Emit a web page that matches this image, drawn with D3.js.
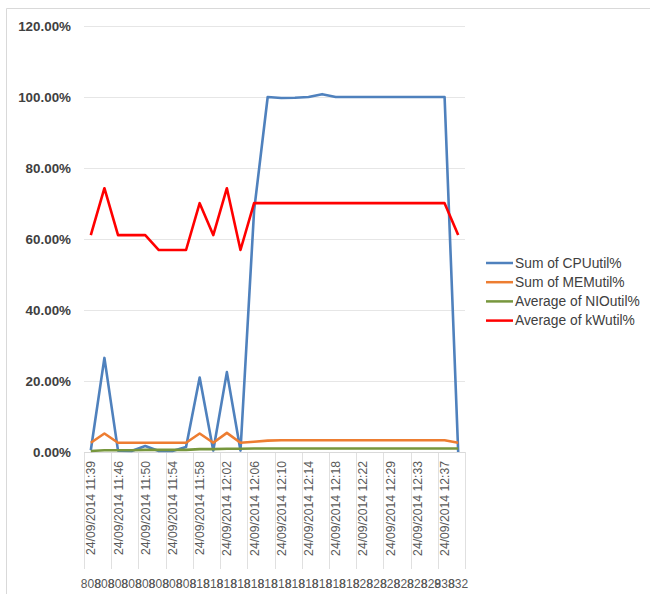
<!DOCTYPE html>
<html>
<head>
<meta charset="utf-8">
<script src="https://cdn.jsdelivr.net/npm/d3@7"></script>
<style>
  html, body { margin: 0; padding: 0; background: #fff; }
  svg { display: block; font-family: "Liberation Sans", Arial, sans-serif; }
</style>
</head>
<body>
<svg id="chart" width="650" height="594"></svg>
<script>
// Sample times (every other one is labelled on the axis)
const times = [
  "11:39", "11:44", "11:46", "11:48", "11:50", "11:52", "11:54", "11:56",
  "11:58", "12:00", "12:02", "12:04", "12:06", "12:08", "12:10", "12:12",
  "12:14", "12:16", "12:18", "12:20", "12:22", "12:26", "12:29", "12:31",
  "12:33", "12:35", "12:37", "12:39"
];
const tickLabels = [
  "24/09/2014 11:39", "24/09/2014 11:46", "24/09/2014 11:50", "24/09/2014 11:54",
  "24/09/2014 11:58", "24/09/2014 12:02", "24/09/2014 12:06", "24/09/2014 12:10",
  "24/09/2014 12:14", "24/09/2014 12:18", "24/09/2014 12:22", "24/09/2014 12:29",
  "24/09/2014 12:33", "24/09/2014 12:37"
];
// Outer category level (host id per sample)
const hosts = [
  "808", "808", "808", "808", "808", "808", "808", "808",
  "818", "818", "818", "818", "818", "818", "818", "818",
  "818", "818", "818", "818", "828", "828", "828", "828",
  "828", "829", "838", "832"
];
const yTicks = [0, 0.2, 0.4, 0.6, 0.8, 1.0, 1.2];

const cpuUtil = [0.005, 0.265, 0.004, 0.003, 0.017, 0.003, 0.003, 0.014,
  0.21, 0.004, 0.225, 0.004, 0.68, 1.0, 0.997, 0.998, 1.0, 1.008, 1.0, 1.0,
  1.0, 1.0, 1.0, 1.0, 1.0, 1.0, 1.0, 0.0];
const memUtil = [0.026, 0.052, 0.026, 0.026, 0.026, 0.026, 0.026, 0.026,
  0.052, 0.026, 0.054, 0.026, 0.029, 0.032, 0.033, 0.033, 0.033, 0.033, 0.033, 0.033,
  0.033, 0.033, 0.033, 0.033, 0.033, 0.033, 0.033, 0.026];
const nioUtil = [0.003, 0.005, 0.005, 0.005, 0.006, 0.006, 0.006, 0.006,
  0.008, 0.008, 0.009, 0.009, 0.01, 0.01, 0.01, 0.01, 0.01, 0.01, 0.01, 0.01,
  0.01, 0.01, 0.01, 0.01, 0.01, 0.01, 0.01, 0.01];
const kwUtil = [0.611, 0.743, 0.611, 0.611, 0.611, 0.569, 0.569, 0.569,
  0.701, 0.611, 0.743, 0.569, 0.701, 0.701, 0.701, 0.701, 0.701, 0.701, 0.701, 0.701,
  0.701, 0.701, 0.701, 0.701, 0.701, 0.701, 0.701, 0.611];

const seriesNames = ["Sum of CPUutil%", "Sum of MEMutil%", "Average of NIOutil%", "Average of kWutil%"];
const seriesColors = ["#4F81BD", "#ED7D31", "#77973D", "#FF0000"];
const seriesValues = [cpuUtil, memUtil, nioUtil, kwUtil];

const svg = d3.select("#chart");

// chart frame
svg.append("path")
  .attr("d", "M6.5,594 V8.5 H650")
  .attr("fill", "none").attr("stroke", "#d9d9d9").attr("stroke-width", 1);

const plotLeft = 84, plotRight = 465, plotTop = 26, plotBottom = 452;

const x = d3.scaleBand().domain(d3.range(times.length)).range([plotLeft, plotRight]).padding(0);
const cx = i => x(i) + x.bandwidth() / 2;
const y = d3.scaleLinear().domain([0, 1.2]).range([plotBottom, plotTop]);

// horizontal gridlines
svg.append("g").selectAll("line").data(yTicks.slice(1)).join("line")
  .attr("x1", plotLeft).attr("x2", plotRight)
  .attr("y1", d => Math.round(y(d)) + 0.5).attr("y2", d => Math.round(y(d)) + 0.5)
  .attr("stroke", "#e6e6e6").attr("stroke-width", 1);

// y axis labels
const yAxis = d3.axisLeft(y).tickValues(yTicks).tickFormat(d3.format(".2%")).tickSize(0).tickPadding(0);
const gy = svg.append("g").attr("transform", `translate(71,0)`).call(yAxis);
gy.select(".domain").remove();
gy.selectAll("text")
  .attr("font-family", "Liberation Sans, Arial, sans-serif")
  .attr("font-size", 13.4).attr("font-weight", "bold").attr("fill", "#404040");

// category separators, one per labelled pair of samples
const sepIdx = d3.range(0, times.length + 1, 2);
svg.append("g").selectAll("line").data(sepIdx).join("line")
  .attr("x1", i => Math.round(i < times.length ? x(i) : plotRight) + 0.5)
  .attr("x2", i => Math.round(i < times.length ? x(i) : plotRight) + 0.5)
  .attr("y1", plotBottom).attr("y2", 569)
  .attr("stroke", "#e0e0e0").attr("stroke-width", 1);

// x axis baseline
svg.append("line")
  .attr("x1", plotLeft).attr("x2", plotRight)
  .attr("y1", plotBottom + 0.5).attr("y2", plotBottom + 0.5)
  .attr("stroke", "#d9d9d9").attr("stroke-width", 1);

// rotated date-time labels
svg.append("g").selectAll("text").data(tickLabels).join("text")
  .attr("transform", (d, k) => `translate(${cx(k * 2) + 4.5},461) rotate(-90)`)
  .attr("text-anchor", "end")
  .attr("font-size", 12.2).attr("fill", "#595959")
  .text(d => d);

// outer category labels
svg.append("g").selectAll("text").data(hosts).join("text")
  .attr("x", (d, i) => cx(i)).attr("y", 588)
  .attr("text-anchor", "middle")
  .attr("font-size", 12).attr("fill", "#595959")
  .text(d => d);

// series lines
const line = d3.line().x((d, i) => cx(i)).y(d => y(d));
svg.append("g").selectAll("path").data(seriesValues).join("path")
  .attr("d", d => line(d))
  .attr("fill", "none")
  .attr("stroke", (d, i) => seriesColors[i])
  .attr("stroke-width", 2.6)
  .attr("stroke-linejoin", "round");

// legend
const lg = svg.append("g").selectAll("g").data(seriesNames).join("g")
  .attr("transform", (d, i) => `translate(486,${263 + i * 19.2})`);
lg.append("line").attr("x1", 0).attr("x2", 27).attr("y1", 0).attr("y2", 0)
  .attr("stroke", (d, i) => seriesColors[i]).attr("stroke-width", 2.5);
lg.append("text").attr("x", 29).attr("y", 4.8)
  .attr("font-size", 13.8).attr("fill", "#404040")
  .text(d => d);
</script>
</body>
</html>
